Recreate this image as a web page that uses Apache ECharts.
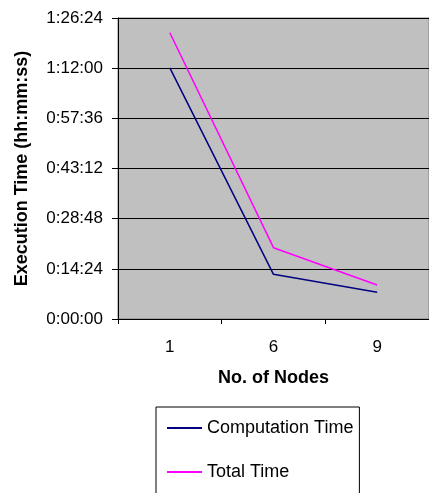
<!DOCTYPE html>
<html>
<head>
<meta charset="utf-8">
<script src="https://cdn.jsdelivr.net/npm/echarts@6/dist/echarts.min.js"></script>
<style>
html,body{margin:0;padding:0;background:#fff;overflow:hidden;}
#chart{width:429px;height:493px;}
</style>
</head>
<body>
<div id="chart"></div>
<script>
// Data (execution times in seconds)
const nodes = ['1', '6', '9'];
const computationTime = [4325, 770, 460];
const totalTime = [4930, 1228, 586];
const seriesNames = ['Computation Time', 'Total Time'];
const yTickStep = 864;   // 0:14:24
const yMax = 5184;       // 1:26:24

function fmt(v) {
  const h = Math.floor(v / 3600);
  const m = Math.floor((v % 3600) / 60);
  const s = Math.round(v % 60);
  return h + ':' + String(m).padStart(2, '0') + ':' + String(s).padStart(2, '0');
}

const font = 'Liberation Sans, Arial, sans-serif';
const chart = echarts.init(document.getElementById('chart'), null, {renderer: 'canvas'});
chart.setOption({
  animation: false,
  backgroundColor: '#ffffff',
  textStyle: {fontFamily: font},
  grid: {
    left: 118, top: 18, width: 320, height: 301,
    show: true, backgroundColor: '#c0c0c0', borderColor: '#808080', borderWidth: 1
  },
  legend: {
    orient: 'vertical',
    left: 156, top: 407, height: 100,
    padding: [12, 6, 30, 11],
    borderColor: '#000', borderWidth: 1,
    icon: 'rect',
    itemWidth: 35, itemHeight: 2, itemGap: 26,
    textStyle: {fontSize: 18, color: '#000', fontFamily: font},
    data: seriesNames
  },
  xAxis: {
    type: 'category',
    data: nodes,
    name: 'No. of Nodes',
    nameLocation: 'middle',
    nameGap: 50,
    nameTextStyle: {fontSize: 18, fontWeight: 'bold', color: '#000', fontFamily: font},
    axisLine: {lineStyle: {color: '#000', width: 1}},
    axisTick: {show: true, length: 5, lineStyle: {color: '#000'}},
    axisLabel: {fontSize: 17, color: '#000', margin: 20, fontFamily: font},
    splitLine: {show: false}
  },
  yAxis: {
    type: 'value',
    min: 0, max: yMax, interval: yTickStep,
    name: 'Execution Time (hh:mm:ss)',
    nameLocation: 'middle',
    nameRotate: 90,
    nameGap: 87,
    nameTextStyle: {fontSize: 18, fontWeight: 'bold', color: '#000', fontFamily: font},
    axisLine: {show: true, lineStyle: {color: '#000', width: 1}},
    axisTick: {show: true, length: 6, lineStyle: {color: '#000'}},
    axisLabel: {fontSize: 17, color: '#000', margin: 15, formatter: fmt, fontFamily: font},
    splitLine: {show: true, lineStyle: {color: '#000', width: 1}}
  },
  series: [
    {
      name: seriesNames[0], type: 'line', data: computationTime,
      symbol: 'none', lineStyle: {color: '#000080', width: 1.5}, itemStyle: {color: '#000080'}
    },
    {
      name: seriesNames[1], type: 'line', data: totalTime,
      symbol: 'none', lineStyle: {color: '#ff00ff', width: 1.5}, itemStyle: {color: '#ff00ff'}
    }
  ]
});
</script>
</body>
</html>
